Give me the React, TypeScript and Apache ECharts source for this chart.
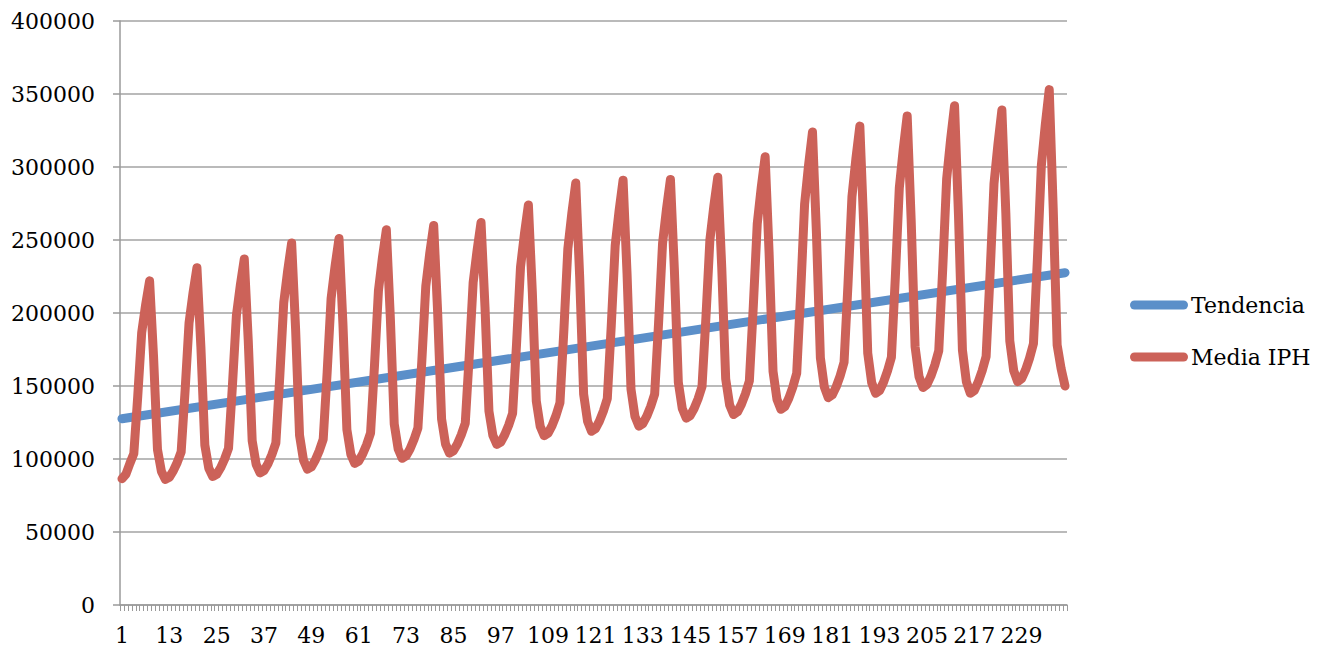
import React, { useEffect, useRef } from "react";
import * as echarts from "echarts";

// Categories: monthly index 1..240
const categories: string[] = Array.from({ length: 240 }, (_, i) => String(i + 1));

// Y axis
const yMin = 0;
const yMax = 400000;
const yInterval = 50000;

// Trend line (Tendencia): linear, endpoints
const trendStart = 127600;
const trendEnd = 227600;

// Media IPH, one array per 12-month cycle
const year01 = [86500, 89500, 96900, 103700, 143100, 186600, 205700, 222000, 170300, 106400, 91400, 86000];
const year02 = [87500, 91800, 97600, 104900, 146900, 193300, 213600, 231000, 176700, 109500, 93700, 88000];
const year03 = [89500, 94000, 99900, 107400, 150600, 198300, 219100, 237000, 181300, 112500, 96400, 90500];
const year04 = [92100, 96800, 103100, 111000, 156700, 207100, 229100, 248000, 189100, 116300, 99200, 93000];
const year05 = [94600, 99300, 105600, 113500, 159400, 209900, 232000, 251000, 192500, 120100, 103200, 97000];
const year06 = [98600, 103400, 109800, 117800, 164200, 215400, 237800, 257000, 197500, 124000, 106800, 100500];
const year07 = [102100, 106900, 113300, 121200, 167500, 218500, 240900, 260000, 200700, 127400, 110200, 104000];
const year08 = [105600, 110300, 116600, 124500, 170400, 220900, 243000, 262000, 204200, 132800, 116100, 110000];
const year09 = [111600, 116600, 123100, 131300, 178900, 231400, 254300, 274000, 214000, 139700, 122300, 116000];
const year10 = [117700, 122900, 129800, 138500, 188700, 244000, 268200, 289000, 224400, 144500, 125800, 119000];
const year11 = [120700, 125900, 132800, 141400, 191200, 246300, 270400, 291000, 227000, 147800, 129200, 122500];
const year12 = [124200, 129300, 136000, 144500, 193500, 247600, 271200, 291500, 229400, 152500, 134500, 128000];
const year13 = [129700, 134600, 141200, 149500, 197300, 250100, 273200, 293000, 231300, 154900, 137000, 130500];
const year14 = [132300, 137600, 144600, 153400, 204600, 261100, 285800, 307000, 241300, 160000, 140900, 134000];
const year15 = [135900, 141600, 149200, 158700, 213800, 274600, 301200, 324000, 254800, 169300, 149300, 142000];
const year16 = [143900, 149400, 156900, 166200, 220100, 279600, 305700, 328000, 258500, 172500, 152300, 145000];
const year17 = [146900, 152600, 160200, 169700, 224800, 285600, 312200, 335000, 264300, 176900, 156400, 149000];
const year18 = [150900, 156700, 164400, 174100, 230100, 291800, 318800, 342000, 267100, 174600, 152900, 145000];
const year19 = [146900, 152800, 160500, 170200, 226500, 288600, 315700, 339000, 268300, 180900, 160400, 153000];
const year20 = [155000, 161000, 169000, 179000, 237000, 301000, 329000, 353000, 272000, 178000, 162000, 150000];

const mediaIPH: number[] = [
  ...year01, ...year02, ...year03, ...year04, ...year05,
  ...year06, ...year07, ...year08, ...year09, ...year10,
  ...year11, ...year12, ...year13, ...year14, ...year15,
  ...year16, ...year17, ...year18, ...year19, ...year20,
];

const seriesNames = ["Tendencia", "Media IPH"];
const blue = "#5B8FC9";
const red = "#CC6259";
const FONT = "DejaVu Serif";
const capsule = "path://M4.5 0H53.5A4.5 4.5 0 0 1 53.5 9H4.5A4.5 4.5 0 0 1 4.5 0Z";

export default function App() {
  const ref = useRef<HTMLDivElement>(null);
  useEffect(() => {
    document.body.style.margin = "0";
    if (!ref.current) return;
    const chart = echarts.init(ref.current, null, { renderer: "svg" });
    chart.setOption({
      animation: false,
      backgroundColor: "#ffffff",
      grid: { left: 120, right: 256, top: 21, bottom: 50, containLabel: false },
      legend: {
        orient: "vertical",
        left: 1130,
        top: 293,
        padding: 0,
        itemWidth: 58,
        itemHeight: 9,
        itemGap: 28,
        textStyle: { fontFamily: FONT, fontSize: 22, color: "#000", lineHeight: 24, padding: [0, 0, 0, -2] },
        data: [
          { name: seriesNames[0], icon: capsule },
          { name: seriesNames[1], icon: capsule },
        ],
      },
      xAxis: {
        type: "category",
        data: categories,
        boundaryGap: true,
        axisLine: { show: true, lineStyle: { color: "#9a9a9a", width: 1.5 } },
        axisTick: { show: true, interval: 0, length: 6, lineStyle: { color: "#9a9a9a", width: 1 } },
        axisLabel: { interval: 11, fontFamily: FONT, fontSize: 22, color: "#000", margin: 19 },
        splitLine: { show: false },
      },
      yAxis: {
        type: "value",
        min: yMin,
        max: yMax,
        interval: yInterval,
        axisLine: { show: true, lineStyle: { color: "#9a9a9a", width: 1.5 } },
        axisTick: { show: true, length: 7, lineStyle: { color: "#9a9a9a", width: 1.5 } },
        axisLabel: {
          fontFamily: FONT,
          fontSize: 22,
          color: "#000",
          margin: 25,
          formatter: (v: number) => String(v),
        },
        splitLine: { show: true, lineStyle: { color: "#a3a3a3", width: 1.5 } },
      },
      series: [
        {
          name: seriesNames[0],
          type: "line",
          data: [
            [0, trendStart],
            [categories.length - 1, trendEnd],
          ],
          showSymbol: false,
          symbol: "none",
          color: blue,
          lineStyle: { color: blue, width: 9, cap: "round", join: "round" },
          z: 2,
        },
        {
          name: seriesNames[1],
          type: "line",
          data: mediaIPH,
          showSymbol: false,
          symbol: "none",
          color: red,
          lineStyle: { color: red, width: 9, cap: "round", join: "round" },
          z: 3,
        },
      ],
    });
    return () => chart.dispose();
  }, []);
  return <div ref={ref} style={{ width: 1323, height: 655 }} />;
}
